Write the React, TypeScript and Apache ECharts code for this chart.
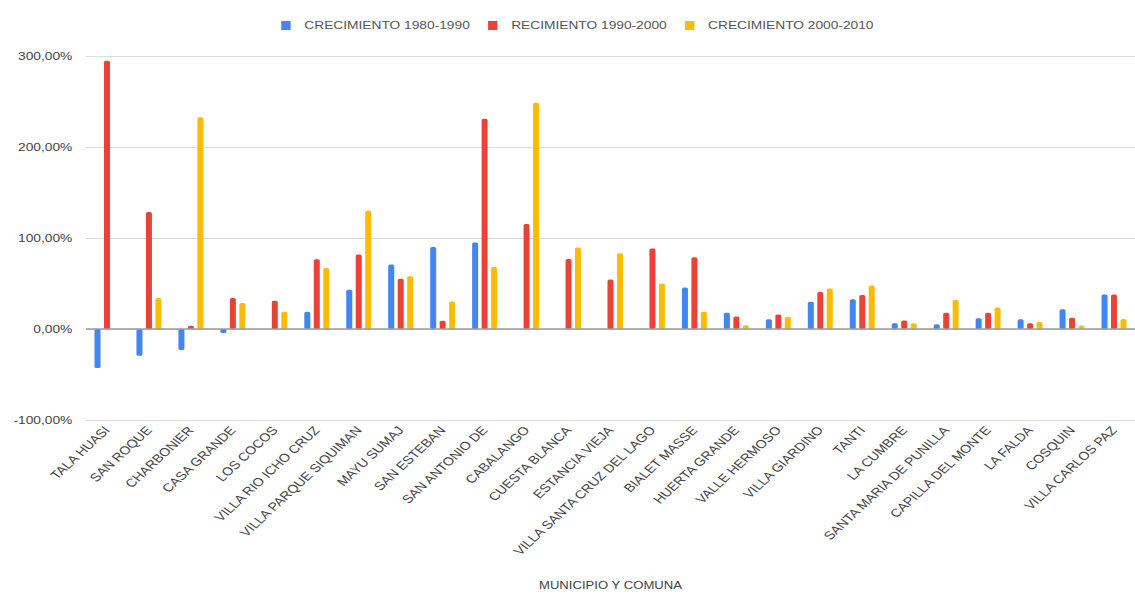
import React, { useEffect, useRef } from "react";
import * as echarts from "echarts";

const categories = [
  "TALA HUASI", "SAN ROQUE", "CHARBONIER", "CASA GRANDE", "LOS COCOS",
  "VILLA RIO ICHO CRUZ", "VILLA PARQUE SIQUIMAN", "MAYU SUMAJ", "SAN ESTEBAN",
  "SAN ANTONIO DE", "CABALANGO", "CUESTA BLANCA", "ESTANCIA VIEJA",
  "VILLA SANTA CRUZ DEL LAGO", "BIALET MASSE", "HUERTA GRANDE", "VALLE HERMOSO",
  "VILLA GIARDINO", "TANTI", "LA CUMBRE", "SANTA MARIA DE PUNILLA",
  "CAPILLA DEL MONTE", "LA FALDA", "COSQUIN", "VILLA CARLOS PAZ",
];

const crec8090 = [
  -42.8, -29.3, -23.2, -4.3, 0, 19, 43, 71, 90, 95, 0, 0, 0,
  0, 45.7, 17.8, 10.7, 30, 32.8, 6.4, 5.3, 11.8, 10.7, 21.7, 37.8,
];
const crec9000 = [
  294.8, 128.5, 3.5, 34, 31, 76.7, 82, 55.3, 9, 231, 115.3, 77, 54.3,
  88.5, 78.9, 13.6, 16, 40.7, 37.5, 9.3, 17.8, 17.8, 6.4, 12.5, 37.8,
];
const crec0010 = [
  0, 34, 232.7, 28.5, 19, 67, 130, 58, 30.3, 68, 248.7, 89.6, 83.2,
  50, 19, 4, 13.2, 44.6, 47.8, 6.4, 32, 23.5, 7.8, 3.9, 11,
];

const seriesNames = ["CRECIMIENTO 1980-1990", "RECIMIENTO 1990-2000", "CRECIMIENTO 2000-2010"];
const colors = ["#4285F4", "#EA4335", "#FBBC04"];
const yTicks = { min: -100, max: 300, interval: 100 };

// The reference picture is horizontally stretched; draw at a narrower width and stretch.
const STRETCH = 1.25;
const W = 1135;
const H = 596;

export default function App() {
  const ref = useRef<HTMLDivElement>(null);
  useEffect(() => {
    document.body.style.margin = "0";
    const chart = echarts.init(ref.current!, null, { renderer: "svg" });
    const font = "'Liberation Sans', Arial, sans-serif";
    const mk = (name: string, data: number[], color: string, i: number) => ({
      name,
      type: "bar",
      data,
      barWidth: 4.8,
      barGap: "58%",
      itemStyle: { color, borderRadius: 1.5 },
      ...(i === 0
        ? {
            markLine: {
              silent: true,
              symbol: "none",
              label: { show: false },
              lineStyle: { color: "#9a9a9a", width: 1.5, type: "solid" },
              data: [{ yAxis: 0 }],
            },
          }
        : {}),
    });
    chart.setOption({
      animation: false,
      color: colors,
      legend: {
        top: 15,
        left: 220,
        itemWidth: 7.5,
        itemHeight: 9,
        itemGap: 14.5,
        icon: "rect",
        textStyle: { fontFamily: font, fontSize: 11, color: "#555", padding: [0, 0, 0, 6] },
      },
      grid: { left: 68.8, right: -2, top: 56, bottom: 166 },
      xAxis: {
        type: "category",
        data: categories,
        axisLine: { show: false, onZero: false },
        axisTick: { show: false },
        axisLabel: {
          rotate: 49,
          interval: 0,
          fontFamily: font,
          fontSize: 11.5,
          color: "#444",
          margin: 8,
        },
        name: "MUNICIPIO Y COMUNA",
        nameLocation: "middle",
        nameGap: 160,
        nameTextStyle: { fontFamily: font, fontSize: 10.5, color: "#444" },
      },
      yAxis: {
        type: "value",
        min: yTicks.min,
        max: yTicks.max,
        interval: yTicks.interval,
        axisLine: { show: false },
        axisTick: { show: false },
        splitLine: { lineStyle: { color: "#dcdcdc", width: 1 } },
        axisLabel: {
          fontFamily: font,
          fontSize: 11,
          color: "#444",
          margin: 11,
          formatter: (v: number) => v.toFixed(2).replace(".", ",") + "%",
        },
      },
      series: [
        mk(seriesNames[0], crec8090, colors[0], 0),
        mk(seriesNames[1], crec9000, colors[1], 1),
        mk(seriesNames[2], crec0010, colors[2], 2),
      ],
    });
    return () => chart.dispose();
  }, []);
  return (
    <div style={{ width: W, height: H, overflow: "hidden", background: "#fff" }}>
      <div
        ref={ref}
        style={{
          width: W / STRETCH,
          height: H,
          transform: `scaleX(${STRETCH})`,
          transformOrigin: "0 0",
        }}
      />
    </div>
  );
}
